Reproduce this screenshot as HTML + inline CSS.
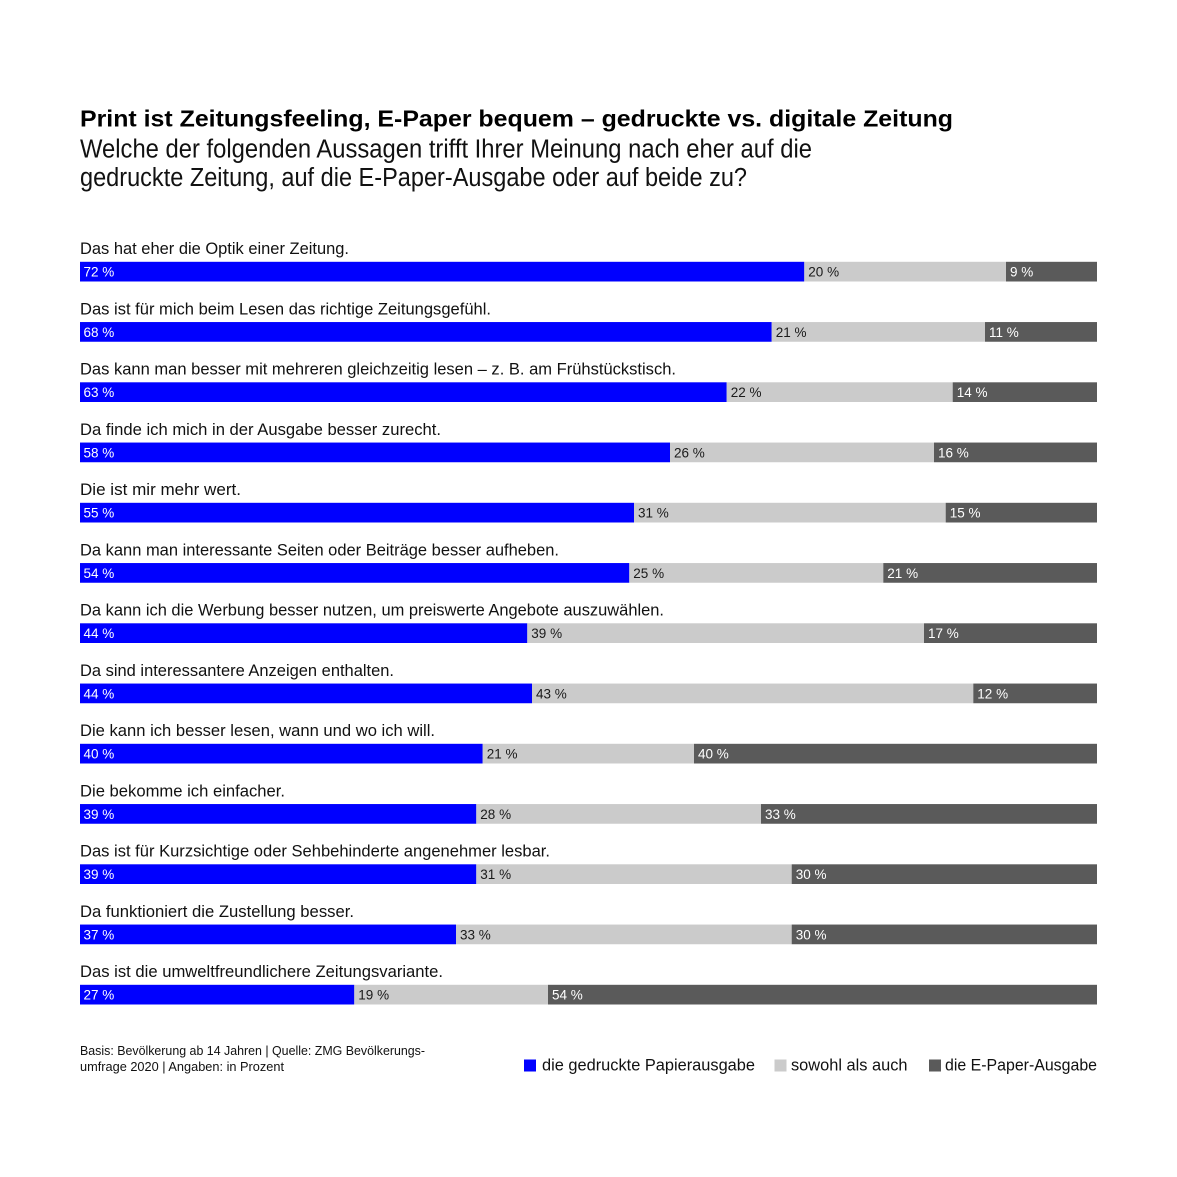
<!DOCTYPE html>
<html><head><meta charset="utf-8"><style>
html,body{margin:0;padding:0;background:#fff;}
svg{display:block;}
text{font-family:"Liberation Sans",sans-serif;}
</style></head><body>
<svg width="1177" height="1177" viewBox="0 0 1177 1177" xmlns="http://www.w3.org/2000/svg">
<rect width="1177" height="1177" fill="#fff"/>
<text x="80" y="126.5" font-size="23.5" font-weight="bold" fill="#000" textLength="873" lengthAdjust="spacingAndGlyphs">Print ist Zeitungsfeeling, E-Paper bequem – gedruckte vs. digitale Zeitung</text>
<text x="80" y="157.3" font-size="25.5" fill="#111" textLength="732" lengthAdjust="spacingAndGlyphs">Welche der folgenden Aussagen trifft Ihrer Meinung nach eher auf die</text>
<text x="80" y="186" font-size="25.5" fill="#111" textLength="667" lengthAdjust="spacingAndGlyphs">gedruckte Zeitung, auf die E-Paper-Ausgabe oder auf beide zu?</text>

<g id="rows"></g>

<!-- Row 1 -->
<text x="80" y="254.1" font-size="16.5" fill="#111" textLength="269" lengthAdjust="spacingAndGlyphs">Das hat eher die Optik einer Zeitung.</text>
<rect x="80" y="261.8" width="724.3" height="19.7" fill="#0000ff"/>
<rect x="804.3" y="261.8" width="201.7" height="19.7" fill="#cbcbcb"/>
<rect x="1006" y="261.8" width="91" height="19.7" fill="#5a5a5a"/>
<text x="83.5" y="276.5" font-size="13.5" fill="#fff">72 %</text>
<text x="808.3" y="276.5" font-size="13.5" fill="#1a1a1a">20 %</text>
<text x="1010" y="276.5" font-size="13.5" fill="#fff">9 %</text>

<!-- Row 2 -->
<text x="80" y="314.35" font-size="16.5" fill="#111" textLength="411" lengthAdjust="spacingAndGlyphs">Das ist für mich beim Lesen das richtige Zeitungsgefühl.</text>
<rect x="80" y="322.05" width="691.7" height="19.7" fill="#0000ff"/>
<rect x="771.7" y="322.05" width="213.3" height="19.7" fill="#cbcbcb"/>
<rect x="985" y="322.05" width="112" height="19.7" fill="#5a5a5a"/>
<text x="83.5" y="336.75" font-size="13.5" fill="#fff">68 %</text>
<text x="775.7" y="336.75" font-size="13.5" fill="#1a1a1a">21 %</text>
<text x="989" y="336.75" font-size="13.5" fill="#fff">11 %</text>

<!-- Row 3 -->
<text x="80" y="374.6" font-size="16.5" fill="#111" textLength="596" lengthAdjust="spacingAndGlyphs">Das kann man besser mit mehreren gleichzeitig lesen – z. B. am Frühstückstisch.</text>
<rect x="80" y="382.3" width="646.7" height="19.7" fill="#0000ff"/>
<rect x="726.7" y="382.3" width="226" height="19.7" fill="#cbcbcb"/>
<rect x="952.7" y="382.3" width="144.3" height="19.7" fill="#5a5a5a"/>
<text x="83.5" y="397" font-size="13.5" fill="#fff">63 %</text>
<text x="730.7" y="397" font-size="13.5" fill="#1a1a1a">22 %</text>
<text x="956.7" y="397" font-size="13.5" fill="#fff">14 %</text>

<!-- Row 4 -->
<text x="80" y="434.85" font-size="16.5" fill="#111" textLength="361" lengthAdjust="spacingAndGlyphs">Da finde ich mich in der Ausgabe besser zurecht.</text>
<rect x="80" y="442.55" width="590" height="19.7" fill="#0000ff"/>
<rect x="670" y="442.55" width="264" height="19.7" fill="#cbcbcb"/>
<rect x="934" y="442.55" width="163" height="19.7" fill="#5a5a5a"/>
<text x="83.5" y="457.25" font-size="13.5" fill="#fff">58 %</text>
<text x="674" y="457.25" font-size="13.5" fill="#1a1a1a">26 %</text>
<text x="938" y="457.25" font-size="13.5" fill="#fff">16 %</text>

<!-- Row 5 -->
<text x="80" y="495.1" font-size="16.5" fill="#111" textLength="161" lengthAdjust="spacingAndGlyphs">Die ist mir mehr wert.</text>
<rect x="80" y="502.8" width="554" height="19.7" fill="#0000ff"/>
<rect x="634" y="502.8" width="311.7" height="19.7" fill="#cbcbcb"/>
<rect x="945.7" y="502.8" width="151.3" height="19.7" fill="#5a5a5a"/>
<text x="83.5" y="517.5" font-size="13.5" fill="#fff">55 %</text>
<text x="638" y="517.5" font-size="13.5" fill="#1a1a1a">31 %</text>
<text x="949.7" y="517.5" font-size="13.5" fill="#fff">15 %</text>

<!-- Row 6 -->
<text x="80" y="555.35" font-size="16.5" fill="#111" textLength="479" lengthAdjust="spacingAndGlyphs">Da kann man interessante Seiten oder Beiträge besser aufheben.</text>
<rect x="80" y="563.05" width="549.3" height="19.7" fill="#0000ff"/>
<rect x="629.3" y="563.05" width="254" height="19.7" fill="#cbcbcb"/>
<rect x="883.3" y="563.05" width="213.7" height="19.7" fill="#5a5a5a"/>
<text x="83.5" y="577.75" font-size="13.5" fill="#fff">54 %</text>
<text x="633.3" y="577.75" font-size="13.5" fill="#1a1a1a">25 %</text>
<text x="887.3" y="577.75" font-size="13.5" fill="#fff">21 %</text>

<!-- Row 7 -->
<text x="80" y="615.6" font-size="16.5" fill="#111" textLength="584" lengthAdjust="spacingAndGlyphs">Da kann ich die Werbung besser nutzen, um preiswerte Angebote auszuwählen.</text>
<rect x="80" y="623.3" width="447.3" height="19.7" fill="#0000ff"/>
<rect x="527.3" y="623.3" width="396.7" height="19.7" fill="#cbcbcb"/>
<rect x="924" y="623.3" width="173" height="19.7" fill="#5a5a5a"/>
<text x="83.5" y="638" font-size="13.5" fill="#fff">44 %</text>
<text x="531.3" y="638" font-size="13.5" fill="#1a1a1a">39 %</text>
<text x="928" y="638" font-size="13.5" fill="#fff">17 %</text>

<!-- Row 8 -->
<text x="80" y="675.85" font-size="16.5" fill="#111" textLength="314" lengthAdjust="spacingAndGlyphs">Da sind interessantere Anzeigen enthalten.</text>
<rect x="80" y="683.55" width="452" height="19.7" fill="#0000ff"/>
<rect x="532" y="683.55" width="441.3" height="19.7" fill="#cbcbcb"/>
<rect x="973.3" y="683.55" width="123.7" height="19.7" fill="#5a5a5a"/>
<text x="83.5" y="698.25" font-size="13.5" fill="#fff">44 %</text>
<text x="536" y="698.25" font-size="13.5" fill="#1a1a1a">43 %</text>
<text x="977.3" y="698.25" font-size="13.5" fill="#fff">12 %</text>

<!-- Row 9 -->
<text x="80" y="736.1" font-size="16.5" fill="#111" textLength="355" lengthAdjust="spacingAndGlyphs">Die kann ich besser lesen, wann und wo ich will.</text>
<rect x="80" y="743.8" width="402.7" height="19.7" fill="#0000ff"/>
<rect x="482.7" y="743.8" width="211.3" height="19.7" fill="#cbcbcb"/>
<rect x="694" y="743.8" width="403" height="19.7" fill="#5a5a5a"/>
<text x="83.5" y="758.5" font-size="13.5" fill="#fff">40 %</text>
<text x="486.7" y="758.5" font-size="13.5" fill="#1a1a1a">21 %</text>
<text x="698" y="758.5" font-size="13.5" fill="#fff">40 %</text>

<!-- Row 10 -->
<text x="80" y="796.35" font-size="16.5" fill="#111" textLength="205" lengthAdjust="spacingAndGlyphs">Die bekomme ich einfacher.</text>
<rect x="80" y="804.05" width="396.3" height="19.7" fill="#0000ff"/>
<rect x="476.3" y="804.05" width="284.7" height="19.7" fill="#cbcbcb"/>
<rect x="761" y="804.05" width="336" height="19.7" fill="#5a5a5a"/>
<text x="83.5" y="818.75" font-size="13.5" fill="#fff">39 %</text>
<text x="480.3" y="818.75" font-size="13.5" fill="#1a1a1a">28 %</text>
<text x="765" y="818.75" font-size="13.5" fill="#fff">33 %</text>

<!-- Row 11 -->
<text x="80" y="856.6" font-size="16.5" fill="#111" textLength="470" lengthAdjust="spacingAndGlyphs">Das ist für Kurzsichtige oder Sehbehinderte angenehmer lesbar.</text>
<rect x="80" y="864.3" width="396.3" height="19.7" fill="#0000ff"/>
<rect x="476.3" y="864.3" width="315.4" height="19.7" fill="#cbcbcb"/>
<rect x="791.7" y="864.3" width="305.3" height="19.7" fill="#5a5a5a"/>
<text x="83.5" y="879" font-size="13.5" fill="#fff">39 %</text>
<text x="480.3" y="879" font-size="13.5" fill="#1a1a1a">31 %</text>
<text x="795.7" y="879" font-size="13.5" fill="#fff">30 %</text>

<!-- Row 12 -->
<text x="80" y="916.85" font-size="16.5" fill="#111" textLength="274" lengthAdjust="spacingAndGlyphs">Da funktioniert die Zustellung besser.</text>
<rect x="80" y="924.55" width="376" height="19.7" fill="#0000ff"/>
<rect x="456" y="924.55" width="335.7" height="19.7" fill="#cbcbcb"/>
<rect x="791.7" y="924.55" width="305.3" height="19.7" fill="#5a5a5a"/>
<text x="83.5" y="939.25" font-size="13.5" fill="#fff">37 %</text>
<text x="460" y="939.25" font-size="13.5" fill="#1a1a1a">33 %</text>
<text x="795.7" y="939.25" font-size="13.5" fill="#fff">30 %</text>

<!-- Row 13 -->
<text x="80" y="977.1" font-size="16.5" fill="#111" textLength="363" lengthAdjust="spacingAndGlyphs">Das ist die umweltfreundlichere Zeitungsvariante.</text>
<rect x="80" y="984.8" width="274.3" height="19.7" fill="#0000ff"/>
<rect x="354.3" y="984.8" width="193.7" height="19.7" fill="#cbcbcb"/>
<rect x="548" y="984.8" width="549" height="19.7" fill="#5a5a5a"/>
<text x="83.5" y="999.5" font-size="13.5" fill="#fff">27 %</text>
<text x="358.3" y="999.5" font-size="13.5" fill="#1a1a1a">19 %</text>
<text x="552" y="999.5" font-size="13.5" fill="#fff">54 %</text>

<!-- Footer -->
<text x="80" y="1055" font-size="12.5" fill="#111" textLength="345" lengthAdjust="spacingAndGlyphs">Basis: Bevölkerung ab 14 Jahren | Quelle: ZMG Bevölkerungs-</text>
<text x="80" y="1071" font-size="12.5" fill="#111" textLength="204" lengthAdjust="spacingAndGlyphs">umfrage 2020 | Angaben: in Prozent</text>

<!-- Legend -->
<rect x="524" y="1059.5" width="12" height="12" fill="#0000ff"/>
<text x="542" y="1070.7" font-size="16.5" fill="#111" textLength="213" lengthAdjust="spacingAndGlyphs">die gedruckte Papierausgabe</text>
<rect x="774.5" y="1059.5" width="12" height="12" fill="#cbcbcb"/>
<text x="791" y="1070.7" font-size="16.5" fill="#111" textLength="116.5" lengthAdjust="spacingAndGlyphs">sowohl als auch</text>
<rect x="929" y="1059.5" width="12" height="12" fill="#5a5a5a"/>
<text x="945" y="1070.7" font-size="16.5" fill="#111" textLength="152" lengthAdjust="spacingAndGlyphs">die E-Paper-Ausgabe</text>
</svg>
</body></html>
